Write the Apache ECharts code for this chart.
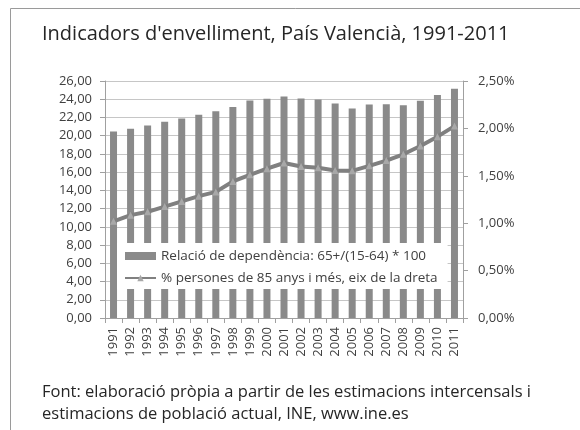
<!DOCTYPE html>
<html>
<head>
<meta charset="utf-8">
<script src="https://cdn.jsdelivr.net/npm/echarts@6/dist/echarts.min.js"></script>
<style>
    html, body { margin: 0; padding: 0; background: #fff; }
    #chart { width: 580px; height: 430px; }
</style>
</head>
<body>
<div id="chart"></div>
<script>
// anys
const years = ['1991', '1992', '1993', '1994', '1995', '1996', '1997', '1998', '1999', '2000',
    '2001', '2002', '2003', '2004', '2005', '2006', '2007', '2008', '2009', '2010', '2011'];
// relació de dependència (eix esquerre)
const dependencia = [20.47, 20.76, 21.13, 21.53, 21.89, 22.29, 22.69, 23.16, 23.85, 24.04,
    24.31, 24.07, 23.96, 23.53, 22.98, 23.42, 23.45, 23.35, 23.82, 24.47, 25.16];
// % persones de 85 anys i més (eix dret)
const persones85 = [1.02, 1.085, 1.12, 1.175, 1.23, 1.285, 1.33, 1.44, 1.51, 1.575,
    1.635, 1.598, 1.584, 1.556, 1.552, 1.605, 1.661, 1.727, 1.815, 1.913, 2.024];

const serieBarra = 'Relació de dependència: 65+/(15-64) * 100';
const serieLinia = '% persones de 85 anys i més, eix de la dreta';

const fontName = 'Open Sans';
const textColor = '#404040';

let myChart = echarts.init(document.getElementById('chart'));
let option = {
    backgroundColor: '#fff',
    textStyle: { fontFamily: fontName },
    animation: false,
    graphic: [
        {
            // marc exterior
            type: 'rect',
            shape: { x: 10.5, y: 8.5, width: 700, height: 600 },
            style: { fill: 'none', stroke: '#9a9a9a', lineWidth: 1 },
            silent: true
        },
        {
            type: 'text',
            left: 42,
            top: 24,
            style: {
                text: "Indicadors d'envelliment, País Valencià, 1991-2011",
                font: '20px ' + fontName,
                fill: '#262626'
            }
        },
        {
            type: 'text',
            left: 42,
            top: 381,
            style: {
                text: 'Font: elaboració pròpia a partir de les estimacions intercensals i\nestimacions de població actual, INE, www.ine.es',
                font: '16.5px ' + fontName,
                lineHeight: 22,
                fill: '#262626'
            }
        }
    ],
    grid: {
        left: 105,
        right: 117,
        top: 81,
        bottom: 112
    },
    legend: {
        orient: 'vertical',
        left: 117,
        top: 243,
        backgroundColor: '#fff',
        padding: [6, 10, 4, 7],
        itemWidth: 31,
        itemHeight: 8,
        itemGap: 8,
        textStyle: { color: textColor, fontSize: 13.5, fontFamily: fontName },
        data: [
            { name: serieBarra, icon: 'rect' },
            { name: serieLinia }
        ]
    },
    xAxis: {
        type: 'category',
        data: years,
        axisLine: { lineStyle: { color: '#a0a0a0' } },
        axisTick: { show: true, length: 5, lineStyle: { color: '#a0a0a0' } },
        axisLabel: { rotate: 90, color: textColor, fontSize: 13, margin: 9 }
    },
    yAxis: [{
        type: 'value',
        min: 0,
        max: 26,
        interval: 2,
        axisLine: { show: true, lineStyle: { color: '#a0a0a0' } },
        axisTick: { show: true, length: 5, lineStyle: { color: '#a0a0a0' } },
        axisLabel: {
            color: textColor,
            fontSize: 13,
            margin: 13,
            formatter: function (v) {
                return v.toFixed(2).replace('.', ',');
            }
        },
        splitLine: { lineStyle: { color: '#c6c6c6' } }
    }, {
        type: 'value',
        min: 0,
        max: 2.5,
        interval: 0.5,
        position: 'right',
        axisLine: { show: true, lineStyle: { color: '#a0a0a0' } },
        axisTick: { show: true, length: 5, lineStyle: { color: '#a0a0a0' } },
        axisLabel: {
            color: textColor,
            fontSize: 13,
            margin: 15,
            formatter: function (v) {
                return v.toFixed(2).replace('.', ',') + '%';
            }
        },
        splitLine: { show: false }
    }],
    series: [{
        name: serieBarra,
        type: 'bar',
        yAxisIndex: 0,
        data: dependencia,
        barWidth: 7,
        itemStyle: { color: '#8a8a8a' }
    }, {
        name: serieLinia,
        type: 'line',
        yAxisIndex: 1,
        data: persones85,
        symbol: 'triangle',
        symbolSize: 7,
        lineStyle: { color: '#808080', width: 4 },
        itemStyle: { color: '#a8a8a8' },
        z: 3
    }]
};
myChart.setOption(option);
</script>
</body>
</html>
